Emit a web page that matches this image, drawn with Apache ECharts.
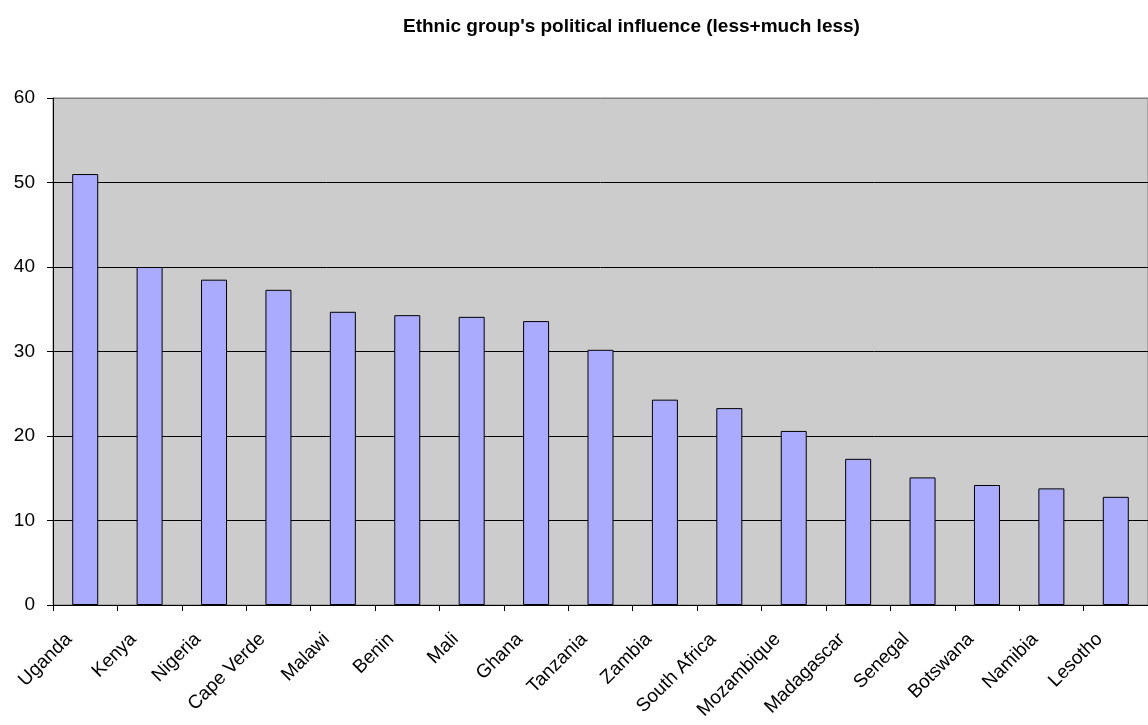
<!DOCTYPE html>
<html>
<head>
<meta charset="utf-8">
<script src="https://cdn.jsdelivr.net/npm/echarts@6/dist/echarts.min.js"></script>
<style>
html,body{margin:0;padding:0;background:#fff;}
#chart{width:1148px;height:725px;}
</style>
</head>
<body>
<div id="chart"></div>
<script>
const titleText = "Ethnic group's political influence (less+much less)";
const categories = ["Uganda","Kenya","Nigeria","Cape Verde","Malawi","Benin","Mali","Ghana","Tanzania","Zambia","South Africa","Mozambique","Madagascar","Senegal","Botswana","Namibia","Lesotho"];
const values = [51, 40, 38.5, 37.3, 34.7, 34.3, 34.1, 33.6, 30.2, 24.3, 23.3, 20.6, 17.3, 15.1, 14.2, 13.8, 12.8];
const yTicks = [0, 10, 20, 30, 40, 50, 60];

const FONT = "'Liberation Sans', Arial, sans-serif";
const chart = echarts.init(document.getElementById('chart'), null, {renderer: 'canvas'});
chart.setOption({
  animation: false,
  backgroundColor: '#ffffff',
  title: {
    text: titleText,
    left: 398,
    top: 12,
    textStyle: {fontFamily: FONT, fontSize: 19, fontWeight: 'bold', color: '#000'}
  },
  grid: {
    left: 53, top: 98, right: -2, bottom: 120,
    show: true, backgroundColor: '#CCCCCC', borderColor: '#808080', borderWidth: 1,
    containLabel: false
  },
  xAxis: {
    type: 'category',
    data: categories,
    boundaryGap: true,
    axisLine: {show: true, lineStyle: {color: '#000', width: 1}},
    axisTick: {show: true, length: 6, inside: false, alignWithLabel: false, lineStyle: {color: '#000'}},
    axisLabel: {
      interval: 0, rotate: 45, margin: 15,
      padding: [0, 23, 0, 0],
      fontFamily: FONT, fontSize: 19, color: '#000'
    },
    splitLine: {show: false}
  },
  yAxis: {
    type: 'value',
    min: yTicks[0], max: yTicks[yTicks.length - 1], interval: 10,
    axisLine: {show: true, lineStyle: {color: '#000', width: 1}},
    axisTick: {show: true, length: 6, inside: false, lineStyle: {color: '#000'}},
    axisLabel: {margin: 18, fontFamily: FONT, fontSize: 19, color: '#000'},
    splitLine: {show: true, lineStyle: {color: ['#000','#000','#000','#000','#000','#000','#808080'], width: 1}}
  },
  series: [{
    type: 'bar',
    data: values,
    barWidth: 26,
    itemStyle: {color: '#AAAAFF', borderColor: '#000', borderWidth: 1}
  }]
});
</script>
</body>
</html>
